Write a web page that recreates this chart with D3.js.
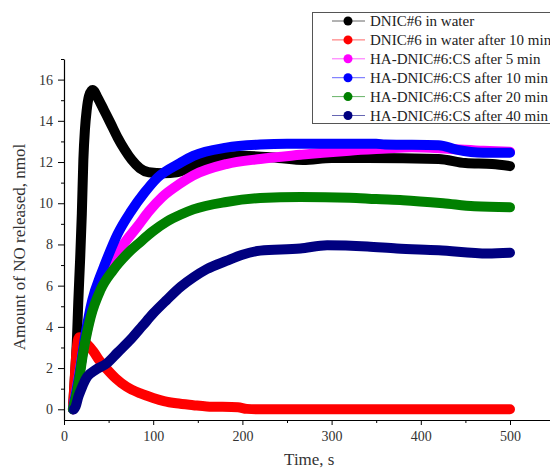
<!DOCTYPE html>
<html lang="en">
<head>
  <meta charset="UTF-8">
  <title>NO release</title>
  <script src="https://d3js.org/d3.v7.min.js"></script>
  <style>
    body { margin: 0; background: #fff; }
    svg text { font-family: "Liberation Serif", "Times New Roman", serif !important; }
  </style>
</head>
<body>

<div id="chart"></div>

<script>
// series: [time s, NO nmol]
const water = [[10,0],[12,1.4],[14.6,3.5],[16,5.2],[18,7.2],[20,9.5],[21.7,12.1],[23.5,13.6],[25.4,14.5],[28,15.2],[32,15.5],[38,15.1],[45,14.5],[52,13.9],[60,13.2],[68,12.6],[76,12.1],[85,11.7],[95,11.5],[112,11.45],[126,11.5],[145,11.8],[164,12.15],[200,12.3],[240,12.2],[268,12.1],[300,12.2],[340,12.2],[420,12.15],[450,11.95],[480,11.9],[500,11.8]];
const water10 = [[10,0],[12,1.5],[14,2.8],[17,3.5],[25,3.2],[33,2.8],[40,2.35],[48,1.95],[58,1.5],[70,1.1],[85,0.78],[100,0.55],[112,0.4],[126,0.29],[145,0.2],[160,0.14],[195,0.1],[205,0.02],[220,0],[500,0]];
const ha5 = [[10,0],[15,1.2],[22,3.0],[30,4.6],[41,6.0],[56,7.3],[70,8.2],[82,8.85],[95,9.6],[110,10.3],[130,10.95],[145,11.35],[182,11.9],[220,12.15],[265,12.35],[290,12.45],[320,12.55],[360,12.65],[390,12.72],[430,12.65],[470,12.55],[500,12.5]];
const ha10 = [[10,0],[16.8,1.6],[24.3,3.7],[31.7,5.3],[41,6.5],[45,6.95],[60,8.5],[75,9.6],[90,10.5],[105,11.25],[130,11.95],[145,12.3],[182,12.7],[220,12.85],[250,12.89],[350,12.89],[360,12.85],[420,12.82],[440,12.6],[470,12.45],[500,12.45]];
const ha20 = [[10,0],[15,0.94],[22,2.87],[30,4.49],[41,5.8],[55,6.75],[71,7.55],[85,8.1],[100,8.65],[115,9.1],[131,9.45],[145,9.7],[182,10.06],[220,10.25],[265,10.3],[320,10.27],[350,10.2],[380,10.15],[425,10.0],[460,9.85],[500,9.8]];
const ha40 = [[11,0],[13,0.13],[16,0.6],[19,0.94],[23,1.35],[26,1.58],[35,1.9],[48,2.23],[60,2.75],[75,3.4],[88,4.05],[100,4.65],[115,5.3],[131,5.95],[145,6.4],[160,6.8],[182,7.2],[200,7.5],[220,7.7],[265,7.8],[295,7.96],[340,7.9],[373,7.8],[420,7.72],[475,7.56],[500,7.6]];

const names = ["DNIC#6 in water", "DNIC#6 in water after 10 min", "HA-DNIC#6:CS after 5 min",
  "HA-DNIC#6:CS after 10 min", "HA-DNIC#6:CS after 20 min", "HA-DNIC#6:CS after 40 min"];
const colors = ["#000000", "#ff0000", "#ff00ff", "#0000ff", "#008000", "#000080"];
const seriesData = [water, water10, ha5, ha10, ha20, ha40];

const xTicks = [0, 100, 200, 300, 400, 500];
const yTicks = [0, 2, 4, 6, 8, 10, 12, 14, 16];

const width = 550, height = 470;
const margin = { left: 64, top: 59, bottom: 50 };
const serif = "'Liberation Serif', 'Times New Roman', serif";

const x = d3.scaleLinear().domain([0, 550]).range([margin.left, margin.left + 550 * 0.892]);
const y = d3.scaleLinear().domain([-0.52, 17]).range([420, margin.top]);

const svg = d3.select("#chart").append("svg")
  .attr("width", width).attr("height", height);

// axes
svg.append("g").attr("transform", "translate(0,420)")
  .call(d3.axisBottom(x).tickValues(xTicks).tickSize(5).tickSizeOuter(0).tickPadding(6));
svg.append("g").attr("transform", "translate(0,420)")
  .call(d3.axisBottom(x).tickValues(d3.range(50, 551, 100)).tickSize(3).tickFormat("").tickSizeOuter(0))
  .select(".domain").remove();

svg.append("g").attr("transform", `translate(${margin.left},0)`)
  .call(d3.axisLeft(y).tickValues(yTicks).tickSize(6).tickSizeOuter(0).tickPadding(5));
svg.append("g").attr("transform", `translate(${margin.left},0)`)
  .call(d3.axisLeft(y).tickValues(d3.range(1, 18, 2)).tickSize(3).tickFormat("").tickSizeOuter(0))
  .select(".domain").remove();

svg.selectAll("g").attr("font-family", serif);
svg.selectAll(".domain").attr("stroke", "#000").attr("stroke-width", 1.2);
svg.selectAll(".tick line").attr("stroke", "#000");
svg.selectAll(".tick text")
  .attr("font-size", 14).attr("fill", "#333");

// curves, drawn thick so they look like the dense marker strings
const line = d3.line()
  .x(d => x(d[0])).y(d => y(d[1]))
  .curve(d3.curveMonotoneX);

svg.append("g").selectAll("path")
  .data(seriesData)
  .join("path")
  .attr("d", line)
  .attr("fill", "none")
  .attr("stroke", (d, i) => colors[i])
  .attr("stroke-width", 10)
  .attr("stroke-linecap", "round")
  .attr("stroke-linejoin", "round");

// axis titles
svg.append("text")
  .attr("x", x(275)).attr("y", 465)
  .attr("text-anchor", "middle")
  .attr("font-size", 17).attr("fill", "#333")
  .text("Time, s");

svg.append("text")
  .attr("transform", "translate(25,247) rotate(-90)")
  .attr("text-anchor", "middle")
  .attr("font-size", 17).attr("fill", "#333")
  .text("Amount of NO released, nmol");

// legend
const legend = svg.append("g");
legend.append("rect")
  .attr("x", 312.5).attr("y", 12.5)
  .attr("width", 260).attr("height", 111)
  .attr("fill", "#fff").attr("stroke", "#555").attr("stroke-width", 1);

const rows = legend.selectAll("g.row")
  .data(names)
  .join("g")
  .attr("class", "row")
  .attr("transform", (d, i) => `translate(0,${21 + i * 18.9})`);

rows.append("line")
  .attr("x1", 332).attr("x2", 365)
  .attr("stroke", (d, i) => colors[i])
  .attr("stroke-opacity", 0.6);
rows.append("circle")
  .attr("cx", 348).attr("r", 4.5)
  .attr("fill", (d, i) => colors[i]);
rows.append("text")
  .attr("x", 370).attr("dy", "0.35em")
  .attr("font-size", 15).attr("fill", "#222")
  .text(d => d);
</script>

</body>
</html>
